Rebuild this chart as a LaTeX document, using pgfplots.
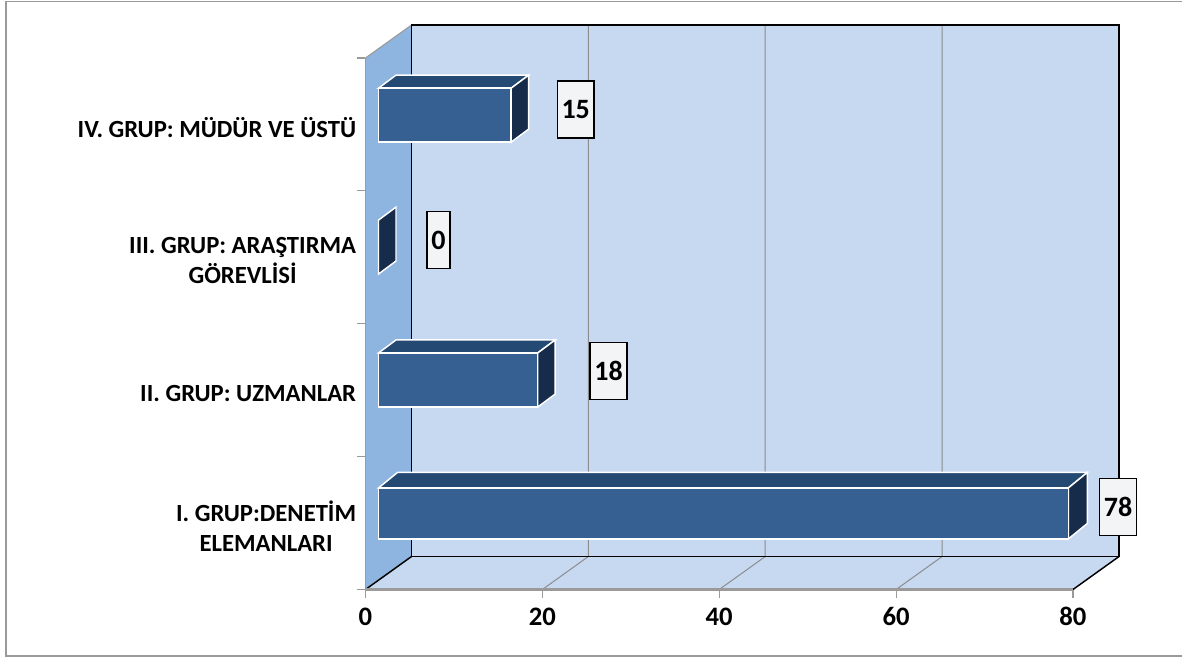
\documentclass[border=0pt]{standalone}
\usepackage{pgfplots}
\pgfplotsset{compat=1.18}
\usepackage{fontspec}
\setmainfont{Carlito}
\definecolor{wallback}{HTML}{C6D9F1}
\definecolor{wallside}{HTML}{8EB4E0}
\definecolor{barfront}{HTML}{366092}
\definecolor{bartop}{HTML}{244A73}
\definecolor{barside}{HTML}{172C4A}
\definecolor{gridc}{HTML}{8C8C8C}
\definecolor{axisc}{HTML}{9A9A9A}
\definecolor{boxc}{HTML}{F3F4F6}
% 1 px of the reference = 0.75pt
\begin{document}
\begin{tikzpicture}
\fill[white] (-274.125pt,-50.625pt) rectangle ++(886.5pt,492.75pt);
% outer frame: open on the right, as in the reference; overlay keeps it out of the bounding box
\draw[overlay,axisc,line width=1.1pt] (612.375pt,441pt) -- (-269.625pt,441pt) -- (-269.625pt,-49.875pt) -- (612.375pt,-49.875pt);
\begin{axis}[
    scale only axis,
    width=530.625pt,
    height=398.625pt,
    xmin=0, xmax=80,
    ymin=0, ymax=4,
    clip=false,
    axis on top,
    axis x line*=bottom,
    axis y line*=left,
    axis line style={-,draw=axisc},
    x axis line style={line width=2pt},
    y axis line style={line width=1pt},
    xtick={0,20,40,60,80},
    ytick={0,1,2,3,4},
    yticklabels={},
    tick align=outside,
    major tick length=6pt,
    tick style={draw=axisc,line width=0.8pt},
    /pgf/number format/assume math mode=true,
    xticklabel style={font=\fontsize{20}{22}\selectfont\bfseries,yshift=-4pt},
    extra y ticks={0.5,1.5,2.5,3.5},
    extra y tick labels={{I. GRUP:DENETİM\\ELEMANLARI},{II. GRUP: UZMANLAR},{III. GRUP: ARAŞTIRMA\\GÖREVLİSİ},{IV. GRUP: MÜDÜR VE ÜSTÜ}},
    extra y tick style={
        major tick length=0pt,
        yticklabel style={font=\fontsize{18.5}{22.5}\selectfont\bfseries,align=center,xshift=-3.5pt,yshift=-2.5pt},
    },
]
% walls and floor
\addplot[fill=wallback,draw=none] coordinates {(0,0)(5.2,0.248)(85.2,0.248)(80,0)} --cycle;
\addplot[fill=wallback,draw=none] coordinates {(5.2,0.248)(85.2,0.248)(85.2,4.248)(5.2,4.248)} --cycle;
\addplot[fill=wallside,draw=none] coordinates {(0,0)(0,4)(5.2,4.248)(5.2,0.248)} --cycle;
\addplot[draw=axisc,line width=0.8pt] coordinates {(0,4)(5.2,4.248)};
% gridlines
\addplot[draw=gridc,line width=0.75pt] coordinates {(20,0)(25.2,0.248)(25.2,4.248)};
\addplot[draw=gridc,line width=0.75pt] coordinates {(40,0)(45.2,0.248)(45.2,4.248)};
\addplot[draw=gridc,line width=0.75pt] coordinates {(60,0)(65.2,0.248)(65.2,4.248)};
% black edges
\addplot[draw=black,line width=1.4pt] coordinates {(5.2,0.248)(85.2,0.248)(85.2,4.248)(5.2,4.248)} --cycle;
\addplot[draw=black,line width=1.1pt] coordinates {(0,0)(5.2,0.248)};
\addplot[draw=black,line width=1.1pt] coordinates {(80,0)(85.2,0.248)};
% tops and sides of the bars (the scope shift ends up applied twice, so half of 9.75pt)
\begin{scope}[xshift=4.875pt]
\addplot[fill=bartop,draw=white,line width=1.1pt] coordinates {(0,3.773)(15,3.773)(16.98,3.871)(1.98,3.871)} --cycle;
\addplot[fill=barside,draw=white,line width=1.1pt] coordinates {(15,3.773)(16.98,3.871)(16.98,3.465)(15,3.367)} --cycle;
\addplot[fill=barside,draw=white,line width=1.1pt] coordinates {(0,2.780)(1.98,2.878)(1.98,2.472)(0,2.374)} --cycle;
\addplot[fill=bartop,draw=white,line width=1.1pt] coordinates {(0,1.780)(18,1.780)(19.98,1.878)(1.98,1.878)} --cycle;
\addplot[fill=barside,draw=white,line width=1.1pt] coordinates {(18,1.780)(19.98,1.878)(19.98,1.471)(18,1.373)} --cycle;
\addplot[fill=bartop,draw=white,line width=1.1pt] coordinates {(0,0.764)(78,0.764)(80.15,0.881)(2.15,0.881)} --cycle;
\addplot[fill=barside,draw=white,line width=1.1pt] coordinates {(78,0.764)(80.15,0.881)(80.15,0.497)(78,0.380)} --cycle;
% front faces
\addplot[xbar,bar shift=0pt,bar width=40.5pt,fill=barfront,draw=white,line width=1.1pt]
    coordinates {(15,3.570)(18,1.5765)};
\addplot[xbar,bar shift=0pt,bar width=38.25pt,fill=barfront,draw=white,line width=1.1pt]
    coordinates {(78,0.572)};
\end{scope}
% value boxes
\addplot[draw=none,
    point meta=explicit symbolic,
    nodes near coords,
    nodes near coords align={anchor=center},
    every node near coord/.append style={
        anchor=center,draw=black,line width=1.1pt,fill=boxc,inner sep=0pt,
        minimum height=43pt,text=black,
        font=\fontsize{21}{22}\selectfont\bfseries,
        minimum width=27.5pt},
] coordinates {(23.77,3.612)[15](27.48,1.644)[18](85.1,0.621)[78]};
\addplot[draw=none,
    point meta=explicit symbolic,
    nodes near coords,
    nodes near coords align={anchor=center},
    every node near coord/.append style={
        anchor=center,draw=black,line width=1.1pt,fill=boxc,inner sep=0pt,
        minimum height=43pt,text=black,
        font=\fontsize{21}{22}\selectfont\bfseries,
        minimum width=17pt},
] coordinates {(8.25,2.63)[0]};
\end{axis}
\end{tikzpicture}
\end{document}
